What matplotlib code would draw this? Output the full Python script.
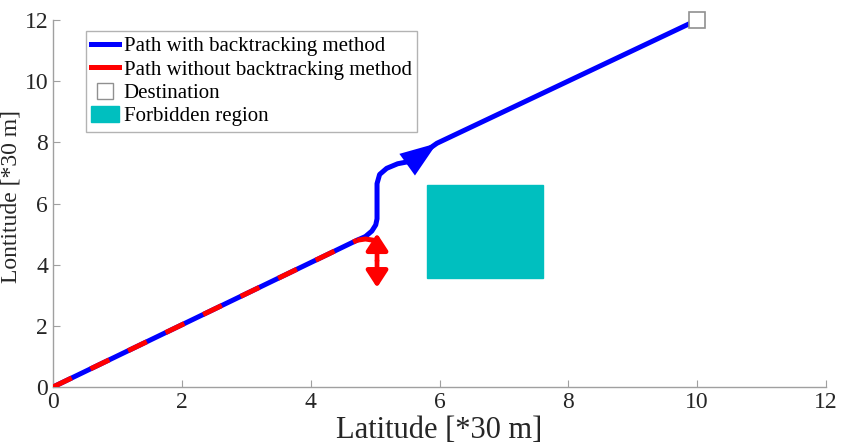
import matplotlib.pyplot as plt
from matplotlib.lines import Line2D
from matplotlib.patches import Patch, Rectangle

# path with backtracking (blue)
blue_x = [0, 4.72, 4.85, 4.95, 5.01, 5.03, 5.03, 5.07, 5.18, 5.35, 5.57, 5.96, 10]
blue_y = [0, 4.80, 4.92, 5.10, 5.30, 5.50, 6.65, 6.95, 7.15, 7.30, 7.39, 7.97, 12]

# path without backtracking (red): dashed over the diagonal, then a short hook
red_x = [0, 4.72, 4.85, 4.97, 5.03]
red_y = [0, 4.80, 4.84, 4.80, 4.70]

# blue arrow (tail -> tip) and red double arrow (bottom, middle, top)
blue_arrow = [(5.30, 6.97), (5.96, 7.97)]
red_arrow_x = 5.03
red_arrow_y = [3.25, 4.13, 5.02]

dest = (10, 12)
forbidden = (5.8, 3.55, 1.8, 3.05)  # x, y, width, height

labels = ['Path with backtracking method', 'Path without backtracking method',
          'Destination', 'Forbidden region']

plt.rcParams['font.family'] = ['Liberation Serif', 'DejaVu Serif']
plt.rcParams['lines.scale_dashes'] = False

fig = plt.figure(figsize=(8.44, 4.46), dpi=100)
ax = fig.add_axes([0.0628, 0.1323, 0.9159, 0.8228])

teal = '#00bfbf'
ax.add_patch(Rectangle(forbidden[:2], forbidden[2], forbidden[3], color=teal, zorder=1))

ax.plot(blue_x, blue_y, color='blue', lw=3.6, solid_capstyle='butt', zorder=2)
ax.plot(red_x[:2], red_y[:2], color='red', lw=3.6, dashes=(15, 15), zorder=3)
ax.plot(red_x[1:], red_y[1:], color='red', lw=3.6, solid_capstyle='butt', zorder=3)

# blue arrow head on the path
ax.annotate('', xy=blue_arrow[1], xytext=blue_arrow[0],
            arrowprops=dict(arrowstyle='-|>,head_length=2.2,head_width=0.8',
                            mutation_scale=12, color='blue', lw=0,
                            shrinkA=0, shrinkB=0), zorder=4)

# red double arrow: two single arrows from the middle
for yend in [red_arrow_y[0], red_arrow_y[2]]:
    ax.annotate('', xy=(red_arrow_x, yend), xytext=(red_arrow_x, red_arrow_y[1]),
                arrowprops=dict(arrowstyle='-|>,head_length=1.0,head_width=0.65',
                                mutation_scale=10, color='red', lw=3.4,
                                shrinkA=0, shrinkB=0), zorder=4)

ax.plot(*dest, marker='s', ms=11, mfc='white', mec='#909090', mew=1.2,
        ls='none', zorder=5, clip_on=False)

ax.set_xlim(0, 12)
ax.set_ylim(0, 12)
ax.set_xticks(range(0, 13, 2))
ax.set_yticks(range(0, 13, 2))
ax.set_xlabel('Latitude [*30 m]', fontsize=22, color='#262626', labelpad=2)
ax.set_ylabel('Lontitude [*30 m]', fontsize=17, color='#262626')
ax.yaxis.set_label_coords(-0.041, 0.518)
ax.tick_params(direction='in', length=5, width=0.8, color='#a0a0a0',
               labelsize=17, labelcolor='#262626')
for side in ['top', 'right']:
    ax.spines[side].set_visible(False)
for side in ['left', 'bottom']:
    ax.spines[side].set_color('#a0a0a0')
    ax.spines[side].set_linewidth(1)

handles = [Line2D([], [], color='blue', lw=3.6),
           Line2D([], [], color='red', lw=3.6),
           Line2D([], [], marker='s', ms=12, mfc='white', mec='#909090', ls='none'),
           Patch(color=teal)]
leg = ax.legend(handles, labels, loc='upper left', bbox_to_anchor=(0.043, 0.97),
                fontsize=15, frameon=True, fancybox=False, edgecolor='#a0a0a0',
                borderpad=0.25, labelspacing=0.15, handlelength=1.3, handletextpad=0.25,
                handleheight=0.8, borderaxespad=0)
leg.get_frame().set_linewidth(1)

fig.savefig('out.png', dpi=100)
